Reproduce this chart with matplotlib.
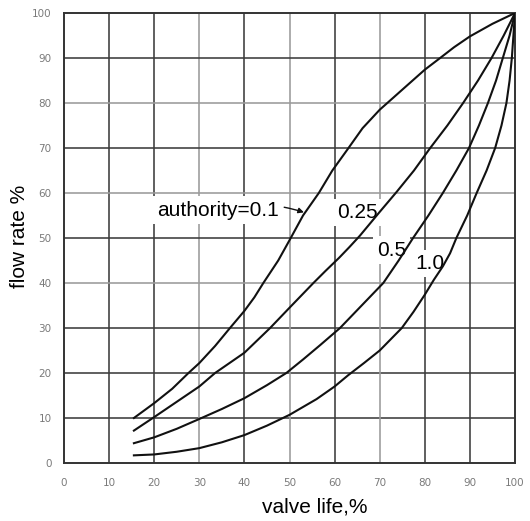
import matplotlib; matplotlib.use("Agg")
import matplotlib.pyplot as plt

plt.rcParams['font.family'] = ['Liberation Sans', 'DejaVu Sans']

# valve life (%) vs flow rate (%), one pair of lists per authority value
x_01 = [15.5, 20, 24, 27.6, 30, 33.5, 36.8, 40, 42.2, 44.2, 47.5, 50, 53, 56.5, 59.5,
        62.8, 66.2, 70, 71.8, 75.5, 80, 83.4, 86.5, 90, 95, 100]
y_01 = [10, 13.3, 16.5, 20, 22.2, 26, 30, 33.8, 36.8, 40, 45, 49.5, 55, 60, 65,
        69.6, 74.4, 78.5, 80.1, 83.4, 87.4, 90, 92.4, 94.8, 97.6, 100]

x_025 = [15.5, 20, 25, 30, 33.5, 40, 45.7, 50, 55.3, 58, 61, 63.3, 65.6, 70, 73.8, 77.6,
         81.2, 85, 88.5, 91.8, 94.8, 97.5, 100]
y_025 = [7.2, 10.2, 13.6, 17, 20, 24.5, 30, 34.5, 40, 42.7, 45.6, 48, 50.5, 55.8, 60.3, 65,
         70, 75, 80, 85, 90, 95, 100]

x_05 = [15.5, 20, 25, 30.5, 35, 40, 45, 49.3, 53, 56.8, 61.2, 66, 70.8, 74.2, 77.4,
        80.8, 84, 87, 89.8, 92, 94, 95.8, 97.3, 98.8, 100]
y_05 = [4.4, 5.7, 7.6, 10, 12, 14.4, 17.3, 20, 23, 26.2, 30, 35, 40, 45, 50,
        55, 60, 65, 70, 75, 80, 85, 90, 95, 100]

x_10 = [15.5, 20, 25, 30, 35, 40, 45, 50, 56, 60, 63, 66.5, 70, 74.9, 77.5, 80, 82,
        84, 85.6, 87, 89.4, 91.5, 93.7, 95.6, 97, 98.1, 98.8, 99.3, 100]
y_10 = [1.7, 1.9, 2.5, 3.3, 4.6, 6.2, 8.3, 10.7, 14.2, 17, 19.5, 22.2, 25, 30, 33.6, 37.4, 40.7,
        43.7, 46.6, 50, 55, 60, 65, 70, 75, 80, 85, 90, 100]

ticks = [0, 10, 20, 30, 40, 50, 60, 70, 80, 90, 100]
light_x = [30, 50, 70]
light_y = [40, 60, 80]

fig = plt.figure(figsize=(5.30, 5.21), dpi=100)
ax = fig.add_axes([64/530, 58/521, 451/530, 450/521])
ax.set_xlim(0, 100); ax.set_ylim(0, 100)

for t in ticks[1:-1]:
    ax.axvline(t, color="#9a9a9a" if t in light_x else "#3c3c3c", lw=1.15, zorder=1)
    ax.axhline(t, color="#9a9a9a" if t in light_y else "#3c3c3c", lw=1.15, zorder=1)
for s in ax.spines.values():
    s.set_color("#333333"); s.set_linewidth(1.4)

for xs, ys in ((x_01, y_01), (x_025, y_025), (x_05, y_05), (x_10, y_10)):
    ax.plot(xs, ys, color="#111111", lw=1.5, zorder=4, solid_joinstyle="round")

ax.set_xticks(ticks); ax.set_yticks(ticks)
ax.tick_params(length=0, labelsize=7.5, labelcolor="#7a7a7a")
ax.tick_params(axis="x", pad=11); ax.tick_params(axis="y", pad=9)
for lab in ax.get_xticklabels() + ax.get_yticklabels():
    lab.set_family("DejaVu Sans")

box = dict(facecolor="white", edgecolor="none", pad=3)
ax.annotate("authority=0.1", xy=(53.2, 55.7), xytext=(20.6, 56.2), fontsize=15,
            ha="left", va="center", bbox=box, zorder=3,
            arrowprops=dict(arrowstyle="-|>", color="#111111", lw=1.0,
                            mutation_scale=8, shrinkA=1, shrinkB=0,
                            connectionstyle="arc3,rad=-0.15"))
ax.text(60.5, 55.6, "0.25", fontsize=15, ha="left", va="center", bbox=box, zorder=3)
ax.text(69.4, 47.3, "0.5", fontsize=15, ha="left", va="center", bbox=box, zorder=3)
ax.text(77.8, 44.4, "1.0", fontsize=15, ha="left", va="center", bbox=box, zorder=3)

ax.text(0.557, -0.098, "valve life,%", transform=ax.transAxes, fontsize=15,
        ha="center", va="center")
ax.text(-0.098, 0.504, "flow rate %", transform=ax.transAxes, fontsize=15,
        ha="center", va="center", rotation=90)

fig.savefig("out.png", dpi=100, facecolor="white")
